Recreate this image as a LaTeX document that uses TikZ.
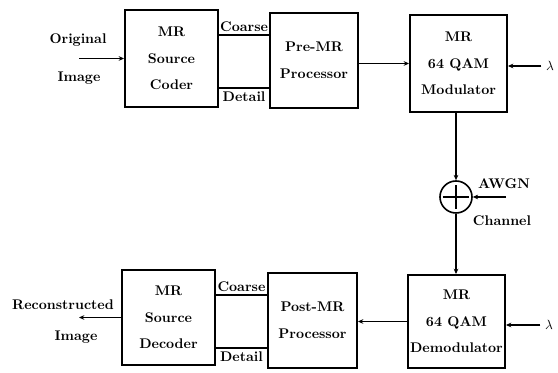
\documentclass[tikz,border=0pt]{standalone}
\usetikzlibrary{arrows.meta, positioning}
\begin{document}
\begin{tikzpicture}[
        x=0.75pt, y=-0.75pt,
        box/.style={rectangle, draw, line width=1.2pt, minimum width=70pt, minimum height=72pt, align=center, inner sep=1pt, font=\bfseries\fontsize{10.5}{20}\selectfont},
        link/.style={line width=1.4pt},
        arrow/.style={-{Stealth[length=4pt, width=3.5pt]}, line width=1.4pt},
        lab/.style={font=\bfseries\fontsize{10.5}{12}\selectfont, inner sep=1pt},
        adder/.style={circle, draw, line width=1.2pt, minimum size=24pt, inner sep=0pt}
    ]
    \useasboundingbox (0,0) rectangle (558,373);

    % Sender chain
    \node (coder) [box, minimum height=73pt] at (171.5, 58.5) {MR \\ Source \\ Coder};
    \node (pre)   [box, minimum width=66pt, minimum height=71pt] at (314, 60.5) {Pre-MR \\ Processor};
    \node (mod)   [box, minimum width=73pt, minimum height=73pt] at (458.5, 63.5) {MR \\ 64 QAM \\ Modulator};

    % Channel
    \node (sum) [adder] at (456, 197) {};
    \draw [line width=0.8pt] ([yshift=-9pt]sum.center) -- ([yshift=9pt]sum.center)
                             ([xshift=-10pt]sum.center) -- ([xshift=10pt]sum.center);

    % Receiver chain
    \node (decoder) [box, minimum height=71pt] at (168.5, 317.5) {MR \\ Source \\ Decoder};
    \node (post)    [box, minimum width=67pt, minimum height=71pt] at (312.5, 320.5) {Post-MR \\ Processor};
    \node (demod)   [box, minimum width=73pt, minimum height=70pt] at (456.5, 321.5) {MR \\ 64 QAM \\ Demodulator};

    % Free ends and labels
    \coordinate (src) at (79, 58.5);
    \coordinate (sink) at (79, 320);
    \coordinate (noise) at (506, 197);
    \node (orig)  [lab] at (78, 40)  {Original};
    \node (img)   [lab] at (79, 78)  {Image};
    \node (recon) [lab] at (63, 305) {Reconstructed};
    \node (rimg)  [lab] at (76, 337) {Image};
    \node (awgn)  [lab] at (504, 184) {AWGN};
    \node (chan)  [lab] at (502, 221) {Channel};
    \node (lamtop) at (550, 66)  {$\lambda$};
    \node (lambot) at (549, 325) {$\lambda$};

    % Top connectors
    \draw [arrow] (src) -- (coder.west);
    \draw [link] ([yshift=17.6pt]coder.east) -- ([yshift=17.6pt]coder.east -| pre.west)
        node[lab, midway, above=1pt] {Coarse};
    \draw [link] ([yshift=-22.1pt]coder.east) -- ([yshift=-22.1pt]coder.east -| pre.west)
        node[lab, midway, below=1pt] {Detail};
    \draw [arrow] (pre.east |- mod.west) -- (mod.west);
    \draw [arrow] (lamtop.west) -- (lamtop.west -| mod.east);

    % Channel connectors
    \draw [arrow] (sum.north |- mod.south) -- (sum.north);
    \draw [arrow] (noise) -- (sum.east);
    \draw [arrow] (sum.south) -- (sum.south |- demod.north);

    % Bottom connectors
    \draw [arrow] (lambot.west) -- (lambot.west -| demod.east);
    \draw [arrow] (demod.west) -- (demod.west -| post.east);
    \draw [link] ([yshift=16.9pt]decoder.east) -- ([yshift=16.9pt]decoder.east -| post.west)
        node[lab, midway, above=1pt] {Coarse};
    \draw [link] ([yshift=-22.9pt]decoder.east) -- ([yshift=-22.9pt]decoder.east -| post.west)
        node[lab, midway, below=1pt] {Detail};
    \draw [arrow] (decoder.west) -- (decoder.west -| sink);

\end{tikzpicture}
\end{document}
